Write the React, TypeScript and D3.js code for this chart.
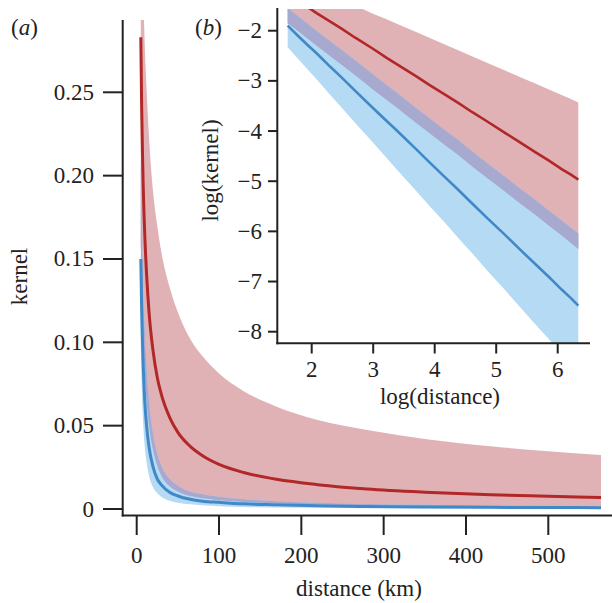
import React from "react";
import * as d3 from "d3";

// distances (km) at which the kernels are read
const distances = [5, 6, 7, 8, 10, 12, 15, 20, 25, 30, 40, 50, 65, 80, 100, 130, 170, 220, 280, 350, 430, 500, 564];

// panel (a): kernel values
const aRedMean = [0.283, 0.242, 0.214, 0.192, 0.162, 0.141, 0.118, 0.0944, 0.0789, 0.0686, 0.055, 0.046, 0.0376, 0.032, 0.0268, 0.0219, 0.0178, 0.0146, 0.012, 0.0101, 0.0086, 0.0077, 0.0069];
const aRedUpper = [0.399, 0.361, 0.333, 0.31, 0.275, 0.252, 0.223, 0.19, 0.17, 0.154, 0.133, 0.118, 0.102, 0.0916, 0.0813, 0.0707, 0.0614, 0.0534, 0.0474, 0.042, 0.0376, 0.0347, 0.0324];
const aRedLower = [0.16, 0.135, 0.115, 0.1, 0.08, 0.065, 0.05, 0.035, 0.026, 0.02, 0.0137, 0.0105, 0.0078, 0.0064, 0.0053, 0.0042, 0.0034, 0.0027, 0.0022, 0.0018, 0.0015, 0.0014, 0.0013];
const aBlueMean = [0.15, 0.12, 0.1, 0.085, 0.063, 0.05, 0.037, 0.025, 0.018, 0.0145, 0.01, 0.0078, 0.0058, 0.0047, 0.004, 0.0031, 0.0025, 0.0019, 0.0015, 0.0012, 0.001, 0.0009, 0.0008];
const aBlueUpper = [0.21, 0.18, 0.15, 0.13, 0.105, 0.085, 0.065, 0.045, 0.033, 0.026, 0.018, 0.014, 0.0105, 0.0088, 0.0073, 0.0058, 0.0047, 0.0037, 0.003, 0.0025, 0.0021, 0.0019, 0.0017];
const aBlueLower = [0.097, 0.075, 0.06, 0.05, 0.036, 0.028, 0.02, 0.013, 0.0095, 0.0072, 0.005, 0.0038, 0.0028, 0.0022, 0.0017, 0.0012, 0.0009, 0.0007, 0.0005, 0.0004, 0.0003, 0.0002, 0.0002];

// panel (b): natural-log kernel values
const bRedMean = [-1.28, -1.42, -1.54, -1.65, -1.82, -1.96, -2.14, -2.36, -2.54, -2.68, -2.9, -3.08, -3.28, -3.44, -3.62, -3.82, -4.03, -4.23, -4.42, -4.59, -4.76, -4.87, -4.97];
const bRedUpper = [-0.92, -1.02, -1.1, -1.17, -1.29, -1.38, -1.5, -1.66, -1.77, -1.87, -2.02, -2.14, -2.28, -2.39, -2.51, -2.65, -2.79, -2.93, -3.05, -3.17, -3.28, -3.36, -3.43];
const bRedLower = [-1.85, -2.02, -2.17, -2.3, -2.51, -2.68, -2.89, -3.17, -3.38, -3.55, -3.83, -4.04, -4.29, -4.48, -4.7, -4.95, -5.2, -5.45, -5.67, -5.89, -6.08, -6.23, -6.35];
const bBlueMean = [-1.9, -2.12, -2.3, -2.45, -2.72, -2.93, -3.2, -3.54, -3.8, -4.01, -4.35, -4.62, -4.93, -5.17, -5.44, -5.75, -6.06, -6.37, -6.65, -6.91, -7.16, -7.33, -7.48];
const bBlueUpper = [-1.55, -1.72, -1.87, -2.0, -2.21, -2.38, -2.59, -2.87, -3.08, -3.25, -3.53, -3.74, -3.99, -4.18, -4.4, -4.65, -4.9, -5.15, -5.37, -5.59, -5.78, -5.93, -6.04];
const bBlueLower = [-2.33, -2.58, -2.79, -2.97, -3.28, -3.53, -3.84, -4.23, -4.54, -4.79, -5.18, -5.49, -5.84, -6.13, -6.43, -6.8, -7.16, -7.52, -7.85, -8.15, -8.43, -8.64, -8.8];

// ticks
const mainXTicks = [0, 100, 200, 300, 400, 500];
const mainYTicks = [0, 0.05, 0.1, 0.15, 0.2, 0.25];
const mainYTickLabels = ["0", "0.05", "0.10", "0.15", "0.20", "0.25"];
const insetXTicks = [2, 3, 4, 5, 6];
const insetYTicks = [-2, -3, -4, -5, -6, -7, -8];

const PINK = "#e0b2b6";
const LIGHTBLUE = "#b5daf3";
const PURPLE = "#a7a9cf";
const RED = "#b22727";
const BLUE = "#4188c8";
const FONT = "'Liberation Serif', 'Times New Roman', serif";
const FS = 23;

export default function App() {
  // main panel scales
  const x = d3.scaleLinear().domain([0, 500]).range([136.7, 548.3]);
  const y = d3.scaleLinear().domain([0, 0.25]).range([509, 92.3]);
  // inset scales
  const lx = d3.scaleLinear().domain([2, 6]).range([311.7, 557.7]);
  const ly = d3.scaleLinear().domain([-2, -8]).range([30.7, 331.7]);

  const idx = distances.map((_, i) => i);

  const mainArea = (lo: number[], hi: number[]) =>
    d3
      .area<number>()
      .x((i) => x(distances[i]))
      .y0((i) => y(lo[i]))
      .y1((i) => y(hi[i]))
      .curve(d3.curveMonotoneX)(idx) as string;
  const mainLine = (v: number[]) =>
    d3
      .line<number>()
      .x((i) => x(distances[i]))
      .y((i) => y(v[i]))
      .curve(d3.curveMonotoneX)(idx) as string;

  const insetArea = (lo: number[], hi: number[]) =>
    d3
      .area<number>()
      .x((i) => lx(Math.log(distances[i])))
      .y0((i) => ly(lo[i]))
      .y1((i) => ly(hi[i]))(idx) as string;
  const insetLine = (v: number[]) =>
    d3
      .line<number>()
      .x((i) => lx(Math.log(distances[i])))
      .y((i) => ly(v[i]))(idx) as string;

  const mainAxisX = 122.7;
  const mainAxisY = 515.5;
  const insetAxisX = 277.3;
  const insetAxisY = 343.3;

  return (
    <svg width={612} height={603} style={{ position: "absolute", left: 0, top: 0, background: "#fff" }} fontFamily={FONT}>
      <defs>
        <clipPath id="mainClip">
          <rect x={124} y={20} width={488} height={495} />
        </clipPath>
        <clipPath id="insetClip">
          <rect x={278} y={9} width={312} height={334} />
        </clipPath>
      </defs>

      {/* main panel data */}
      <g clipPath="url(#mainClip)">
        <path d={mainArea(aRedLower, aRedUpper)} fill={PINK} />
        <path d={mainArea(aBlueLower, aBlueUpper)} fill={LIGHTBLUE} />
        <path d={mainArea(aRedLower, aBlueUpper)} fill={PURPLE} />
        <path d={mainLine(aRedMean)} fill="none" stroke={RED} strokeWidth={3} />
        <path d={mainLine(aBlueMean)} fill="none" stroke={BLUE} strokeWidth={3} />
      </g>

      {/* main axes */}
      <g stroke="#222" strokeWidth={2} fill="none">
        <line x1={mainAxisX} y1={20} x2={mainAxisX} y2={mainAxisY + 1} />
        <line x1={mainAxisX - 1} y1={mainAxisY} x2={612} y2={mainAxisY} />
        {mainYTicks.map((t) => (
          <line key={"my" + t} x1={103} x2={mainAxisX} y1={y(t)} y2={y(t)} />
        ))}
        {mainXTicks.map((t) => (
          <line key={"mx" + t} x1={x(t)} x2={x(t)} y1={mainAxisY} y2={535} />
        ))}
      </g>
      <g fontSize={FS} fill="#222">
        {mainYTicks.map((t, i) => (
          <text key={"myl" + t} x={94} y={y(t) + 7.5} textAnchor="end">
            {mainYTickLabels[i]}
          </text>
        ))}
        {mainXTicks.map((t) => (
          <text key={"mxl" + t} x={x(t)} y={562.7} textAnchor="middle">
            {t}
          </text>
        ))}
        <text x={359} y={596} textAnchor="middle">distance (km)</text>
        <text transform="translate(27,276.5) rotate(-90)" textAnchor="middle">kernel</text>
        <text x={11} y={35}>
          (<tspan fontStyle="italic">a</tspan>)
        </text>
        <text x={195} y={35}>
          (<tspan fontStyle="italic">b</tspan>)
        </text>
      </g>

      {/* inset data */}
      <g clipPath="url(#insetClip)">
        <path d={insetArea(bRedLower, bRedUpper)} fill={PINK} />
        <path d={insetArea(bBlueLower, bBlueUpper)} fill={LIGHTBLUE} />
        <path d={insetArea(bRedLower, bBlueUpper)} fill={PURPLE} />
        <path d={insetLine(bRedMean)} fill="none" stroke={RED} strokeWidth={2.6} />
        <path d={insetLine(bBlueMean)} fill="none" stroke={BLUE} strokeWidth={2.6} />
      </g>

      {/* inset axes */}
      <g stroke="#222" strokeWidth={2} fill="none">
        <line x1={insetAxisX} y1={8} x2={insetAxisX} y2={insetAxisY + 1} />
        <line x1={insetAxisX - 1} y1={insetAxisY} x2={590} y2={insetAxisY} />
        {insetYTicks.map((t) => (
          <line key={"iy" + t} x1={268} x2={insetAxisX} y1={ly(t)} y2={ly(t)} />
        ))}
        {insetXTicks.map((t) => (
          <line key={"ix" + t} x1={lx(t)} x2={lx(t)} y1={insetAxisY} y2={353.5} />
        ))}
      </g>
      <g fontSize={FS} fill="#222">
        {insetYTicks.map((t) => (
          <text key={"iyl" + t} x={262} y={ly(t) + 7.5} textAnchor="end">
            {"\u2212" + Math.abs(t)}
          </text>
        ))}
        {insetXTicks.map((t) => (
          <text key={"ixl" + t} x={lx(t)} y={376.7} textAnchor="middle">
            {t}
          </text>
        ))}
        <text x={440} y={404} textAnchor="middle">log(distance)</text>
        <text transform="translate(217.5,170.5) rotate(-90)" textAnchor="middle">log(kernel)</text>
      </g>
    </svg>
  );
}
